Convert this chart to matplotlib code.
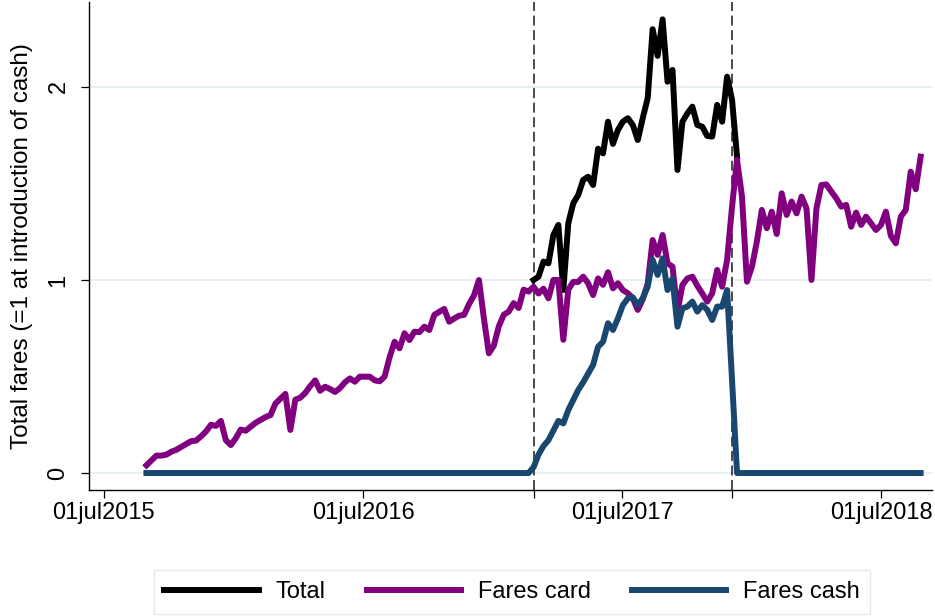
import numpy as np
import pandas as pd
import matplotlib
matplotlib.use("Agg")
import matplotlib.pyplot as plt
import matplotlib.dates as mdates

plt.rcParams['font.family'] = ['Liberation Sans', 'DejaVu Sans']

# weekly observations, first week 30aug2015
dates = pd.date_range('2015-08-30', periods=157, freq='7D')

fares_card = [
    0.04, 0.065, 0.09, 0.09, 0.095, 0.11, 0.12, 0.135, 0.15, 0.165,
    0.168, 0.19, 0.215, 0.25, 0.244, 0.27, 0.17, 0.145, 0.18, 0.225,
    0.219, 0.24, 0.26, 0.275, 0.29, 0.30, 0.36, 0.385, 0.41, 0.223,
    0.38, 0.39, 0.415, 0.45, 0.48, 0.426, 0.447, 0.435, 0.42, 0.44,
    0.47, 0.49, 0.473, 0.499, 0.499, 0.499, 0.48, 0.475, 0.50, 0.60,
    0.68, 0.646, 0.724, 0.689, 0.732, 0.73, 0.758, 0.741, 0.819, 0.835,
    0.85, 0.784, 0.80, 0.815, 0.819, 0.875, 0.92, 1.0, 0.80, 0.62,
    0.66, 0.76, 0.82, 0.836, 0.88, 0.855, 0.95, 0.94, 0.965, 0.93,
    0.955, 0.905, 1.0, 1.0, 0.69, 0.95, 0.99, 0.99, 1.017, 0.983,
    0.922, 1.008, 0.975, 1.04, 0.957, 0.983, 0.948, 0.931, 0.905, 0.845,
    0.90, 0.98, 1.207, 1.13, 1.233, 1.086, 1.069, 0.836, 0.974, 1.008,
    1.017, 0.97, 0.93, 0.888, 0.931, 1.052, 0.965, 1.104, 1.38, 1.622,
    1.432, 0.991, 1.069, 1.199, 1.363, 1.268, 1.354, 1.238, 1.449, 1.337,
    1.406, 1.345, 1.432, 1.371, 1.0, 1.371, 1.492, 1.495, 1.458, 1.423,
    1.38, 1.389, 1.276, 1.349, 1.285, 1.328, 1.294, 1.259, 1.285, 1.354,
    1.228, 1.19, 1.328, 1.363, 1.561, 1.47, 1.639,
]

fares_cash = [0.0] * 78 + [
    0.03, 0.095, 0.14, 0.17, 0.22, 0.27, 0.257, 0.326, 0.378, 0.43,
    0.47, 0.515, 0.56, 0.654, 0.68, 0.776, 0.741, 0.801, 0.87, 0.905,
    0.91, 0.87, 0.905, 0.965, 1.104, 1.026, 1.112, 0.948, 1.008, 0.758,
    0.853, 0.862, 0.888, 0.836, 0.87, 0.845, 0.793, 0.862, 0.862, 0.948,
    0.48, 0.0,
] + [0.0] * 37

# total only shown while cash was accepted
total_start = 78
total = [
    1.0, 1.017, 1.095, 1.086, 1.233, 1.285, 0.948, 1.294, 1.397, 1.44,
    1.518, 1.535, 1.492, 1.68, 1.656, 1.82, 1.705, 1.777, 1.82, 1.838,
    1.803, 1.725, 1.838, 1.942, 2.299, 2.161, 2.35, 2.027, 2.088, 1.57,
    1.82, 1.863, 1.898, 1.803, 1.794, 1.746, 1.743, 1.907, 1.82, 2.053,
    1.933, 1.639,
]

events = ['2017-02-26', '2017-12-03']
tick_dates = ['2015-07-01', '2016-07-01', '2017-07-01', '2018-07-01']
tick_labels = ['01jul2015', '01jul2016', '01jul2017', '01jul2018']

fig = plt.figure(figsize=(9.35, 6.16), dpi=100)
ax = fig.add_axes([89 / 935, 1 - 490 / 616, 843 / 935, 488 / 616])

for y in [0, 1, 2]:
    ax.axhline(y, color='#e6eef1', lw=1.3, zorder=0)
for d in events:
    ax.axvline(pd.Timestamp(d), color='#1a1a1a', lw=1.1, ls=(0, (6.5, 3)), zorder=1)

lw = 4.3
ax.plot(dates[total_start:total_start + len(total)], total, color='black', lw=lw,
        solid_joinstyle='round', label='Total', zorder=2)
ax.plot(dates, fares_card, color='#800080', lw=lw, solid_joinstyle='round',
        label='Fares card', zorder=3)
ax.plot(dates, fares_cash, color='#1a476f', lw=lw, solid_joinstyle='round',
        label='Fares cash', zorder=4)

ax.set_xlim(pd.Timestamp('2015-06-10'), pd.Timestamp('2018-09-11'))
ax.set_ylim(-0.088, 2.44)

ax.set_xticks([pd.Timestamp(d) for d in tick_dates])
ax.set_xticklabels(tick_labels)
ax.set_xticks([pd.Timestamp(d) for d in events], minor=True)
ax.set_yticks([0, 1, 2])
ax.set_yticklabels(['0', '1', '2'], rotation=90, va='center')

ax.tick_params(axis='both', which='both', length=6, width=0.9, labelsize=17, color='black')
ax.tick_params(axis='x', pad=3)
ax.tick_params(axis='y', pad=8)

for s in ['top', 'right']:
    ax.spines[s].set_visible(False)
for s in ['left', 'bottom']:
    ax.spines[s].set_linewidth(1.0)

fig.text(22 / 935, 1 - 246 / 616, 'Total fares (=1 at introduction of cash)',
         rotation=90, ha='center', va='center', fontsize=17.5)

leg = fig.legend(loc='center', bbox_to_anchor=(512 / 935, 1 - 592 / 616), ncol=3,
                 fontsize=17, handlelength=4.0, handletextpad=0.7, columnspacing=1.75,
                 borderpad=0.45, fancybox=False, framealpha=1)
leg.get_frame().set_edgecolor('#e3eaed')
leg.get_frame().set_linewidth(1.0)

fig.savefig('out.png', dpi=100)
